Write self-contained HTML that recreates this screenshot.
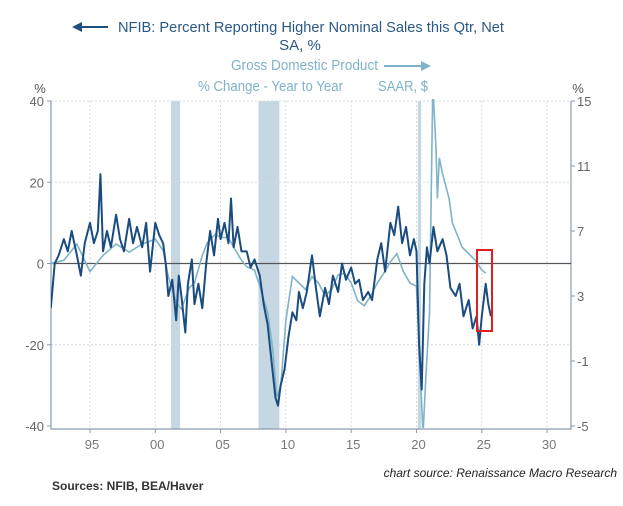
<!DOCTYPE html>
<html><head><meta charset="utf-8"><style>
body{margin:0;background:#fff;width:623px;height:501px;overflow:hidden;font-family:"Liberation Sans",sans-serif}
svg text{font-family:"Liberation Sans",sans-serif}
</style></head><body>
<svg id="c" width="623" height="501">
<g>
<line x1="76" y1="27" x2="108" y2="27" stroke="#1f4e79" stroke-width="2"/>
<path d="M72,27 L82,22 L82,32 Z" fill="#1f4e79"/>
<text x="118" y="32" font-size="15" fill="#2a5985" textLength="386" lengthAdjust="spacingAndGlyphs">NFIB: Percent Reporting Higher Nominal Sales this Qtr, Net</text>
<text x="300" y="50" font-size="15" fill="#2a5985" text-anchor="middle">SA, %</text>
<text x="231" y="70" font-size="15" fill="#7fb3c8" textLength="147" lengthAdjust="spacingAndGlyphs">Gross Domestic Product</text>
<line x1="384" y1="66" x2="424" y2="66" stroke="#7fb3c8" stroke-width="2"/>
<path d="M431,66 L421,61 L421,71 Z" fill="#7fb3c8"/>
<text x="198" y="91" font-size="15" fill="#7fb3c8" textLength="145" lengthAdjust="spacingAndGlyphs">% Change - Year to Year</text>
<text x="378" y="91" font-size="15" fill="#7fb3c8" textLength="50" lengthAdjust="spacingAndGlyphs">SAAR, $</text>
</g>
<text x="40" y="93" font-size="13" fill="#555" text-anchor="middle">%</text>
<text x="578" y="93" font-size="13" fill="#555" text-anchor="middle">%</text>
<g id="plot"></g>
<rect x="477" y="250" width="15" height="81" fill="none" stroke="#e02020" stroke-width="2"/>
<text x="52" y="490" font-size="12" font-weight="bold" fill="#333">Sources:  NFIB, BEA/Haver</text>
<text x="617" y="477" font-size="12" font-style="italic" fill="#222" text-anchor="end">chart source: Renaissance Macro Research</text>
</svg>
<script>
const xTicks=[1995,2000,2005,2010,2015,2020,2025,2030];
const xTickLabels=["95","00","05","10","15","20","25","30"];
const leftTicks=[40,20,0,-20,-40];
const rightTicks=[15,11,7,3,-1,-5];
const recessions=[[2001.2,2001.9],[2007.9,2009.5],[2020.1,2020.35]];
const nfibDates=[1992.0,1992.3,1992.6,1993,1993.3,1993.6,1994,1994.3,1994.6,1995,1995.3,1995.6,1995.8,1996,1996.3,1996.6,1997,1997.3,1997.6,1998,1998.3,1998.6,1999,1999.3,1999.6,2000,2000.3,2000.6,2000.8,2001,2001.3,2001.6,2001.8,2002,2002.3,2002.5,2002.8,2003,2003.3,2003.6,2003.9,2004.2,2004.5,2004.8,2005,2005.3,2005.6,2005.8,2006,2006.3,2006.6,2007,2007.3,2007.6,2008,2008.3,2008.6,2009,2009.2,2009.4,2009.6,2009.9,2010.2,2010.5,2010.8,2011,2011.3,2011.6,2012,2012.3,2012.6,2013,2013.3,2013.6,2014,2014.3,2014.6,2015,2015.3,2015.6,2015.9,2016.3,2016.6,2017,2017.3,2017.6,2018,2018.3,2018.6,2018.9,2019.2,2019.5,2019.8,2020.0,2020.2,2020.4,2020.6,2020.8,2021,2021.3,2021.6,2022,2022.3,2022.6,2023,2023.3,2023.6,2024,2024.3,2024.6,2024.8,2025,2025.3,2025.5,2025.7];
const nfibValues=[-11,0,2,6,3,8,2,-3,5,10,5,8,22,3,8,4,12,6,3,11,5,9,4,10,-2,10,7,5,0,-8,-4,-14,-3,-8,-17,-5,1,-10,-5,-11,0,8,2,11,6,10,5,16,4,9,3,3,-1,1,-3,-10,-15,-27,-33,-35,-30,-26,-18,-12,-14,-7,-11,-7,2,-6,-13,-6,-10,-3,-7,0,-4,-1,-5,-4,-9,-7,-9,1,5,-2,10,7,14,5,9,2,6,3,-20,-31,-5,4,0,9,3,6,2,-6,-8,-5,-13,-9,-16,-13,-20,-13,-5,-10,-13];
const gdpDates=[1992,1993,1994,1995,1996,1997,1998,1999,2000,2000.6,2001,2001.6,2002,2002.6,2003,2003.6,2004,2004.6,2005,2005.6,2006,2006.6,2007,2007.6,2008,2008.6,2009,2009.3,2009.6,2010,2010.5,2011,2011.5,2012,2012.5,2013,2013.5,2014,2014.5,2015,2015.5,2016,2016.5,2017,2017.5,2018,2018.5,2019,2019.5,2020,2020.25,2020.5,2020.75,2021,2021.25,2021.5,2021.6,2021.75,2022,2022.5,2022.75,2023,2023.5,2024,2024.5,2024.75,2025,2025.3];
const gdpValues=[5.0,5.2,6.2,4.5,5.5,6.2,5.7,6.2,6.5,5.8,4.2,2.6,2.2,3.5,3.8,5.5,6.3,6.8,6.6,6.6,6.0,5.2,4.8,4.6,3.6,2.0,-0.3,-3.2,-2.6,1.5,4.2,3.8,3.4,4.2,3.8,3.0,3.4,4.3,4.4,3.8,2.7,2.4,3.0,3.8,4.4,5.1,5.6,4.5,3.8,3.6,-1.0,-5.5,-1.5,2.0,16,12,9,11.5,10.5,9.0,7.5,7.0,6.0,5.6,5.2,4.9,4.6,4.4];

const L=51,R=571,T=101,B=426;
const X=t=>50.8+(t-1992)*13.06;
const YL=v=>T+(40-v)*(B-T)/80;
const YR=v=>T+(15-v)*(B-T)/20;
const NS="http://www.w3.org/2000/svg";
const plot=document.getElementById('plot');
function mk(tag,attrs,parent){const e=document.createElementNS(NS,tag);for(const k in attrs)e.setAttribute(k,attrs[k]);(parent||plot).appendChild(e);return e;}
const defs=mk('defs',{});
const cp=mk('clipPath',{id:'clip'},defs);mk('rect',{x:L,y:T-2,width:R-L,height:B-T+4},cp);
recessions.forEach(r=>{const e=mk('rect',{x:X(r[0]),y:T,width:X(r[1])-X(r[0]),height:B+3-T,fill:'#c5d7e2'});

});
xTicks.forEach((t,i)=>{const g=mk('line',{x1:X(t),x2:X(t),y1:T,y2:B+3,stroke:'#d5dbe0','stroke-dasharray':'2,2'});


mk('line',{x1:X(t),x2:X(t),y1:B+3,y2:B+7,stroke:'#8a9bb0'});
const tx=mk('text',{x:X(t)+2,y:B+23,'font-size':13,fill:'#777','text-anchor':'middle'});tx.textContent=xTickLabels[i];

});
leftTicks.forEach(v=>{if(v!==0&&v!==-40&&v!==40){const g=mk('line',{x1:L,x2:R,y1:YL(v),y2:YL(v),stroke:'#d5dbe0','stroke-dasharray':'2,2'});

}
mk('line',{x1:L-4,x2:L,y1:YL(v),y2:YL(v),stroke:'#8a9bb0'});
const tx=mk('text',{x:L-7,y:YL(v)+5,'font-size':13,fill:'#666','text-anchor':'end'});tx.textContent=v;

});
mk('line',{x1:L,x2:R,y1:T,y2:T,stroke:'#d5dbe0','stroke-dasharray':'2,2'});
rightTicks.forEach(v=>{mk('line',{x1:R,x2:R+4,y1:YR(v),y2:YR(v),stroke:'#8a9bb0'});
const tx=mk('text',{x:R+6,y:YR(v)+5,'font-size':13,fill:'#666'});tx.textContent=v;

});
const ax=mk('path',{d:`M${L},${T} V${B+3} H${R} V${T}`,fill:'none',stroke:'#8a9bb0','stroke-width':1.2});


const z=mk('line',{x1:L,x2:R,y1:YL(0),y2:YL(0),stroke:'#555','stroke-width':1.3});


const gdp=mk('polyline',{points:gdpDates.map((t,i)=>X(t)+','+YR(gdpValues[i])).join(' '),fill:'none',stroke:'#7fb3c8','stroke-width':1.6,'clip-path':'url(#clip)'});


const nf=mk('polyline',{points:nfibDates.map((t,i)=>X(t)+','+YL(nfibValues[i])).join(' '),fill:'none',stroke:'#1b4c7f','stroke-width':2,'stroke-linejoin':'round','clip-path':'url(#clip)'});


</script>
</body></html>
